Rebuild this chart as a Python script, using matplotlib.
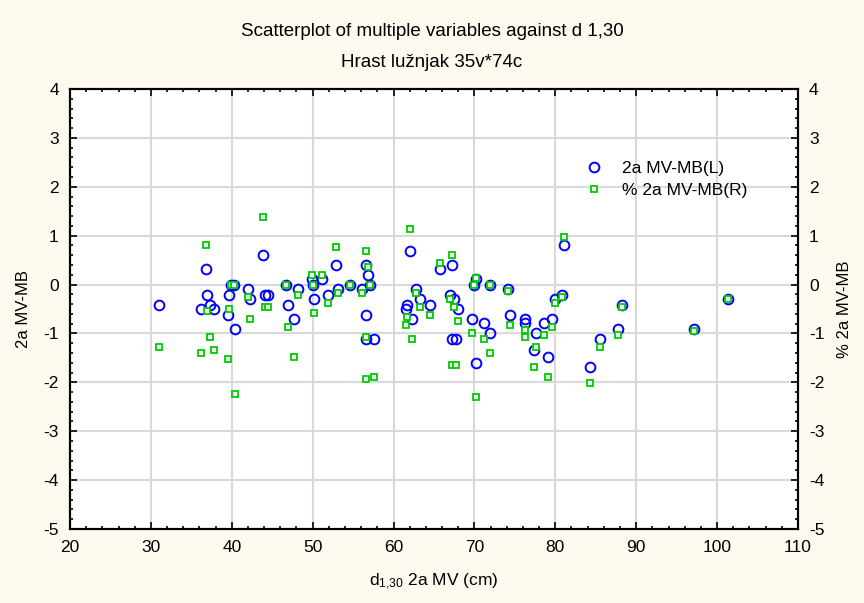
import matplotlib
matplotlib.use("Agg")
import matplotlib.pyplot as plt
from matplotlib.ticker import MultipleLocator

plt.rcParams['font.family'] = ['Liberation Sans', 'DejaVu Sans']
plt.rcParams['axes.unicode_minus'] = False
plt.rcParams['mathtext.default'] = 'regular'

# d 1,30 (cm)
d130 = [31.0, 36.8, 37.0, 36.2, 37.3, 37.8, 39.9, 40.3, 39.7, 39.5,
        40.4, 42.0, 42.2, 43.9, 44.1, 44.5, 46.7, 46.9, 48.2, 47.65,
        49.9, 50.1, 50.2, 51.15, 51.9, 52.9, 53.1, 54.6, 56.1, 56.6,
        56.8, 57.1, 56.6, 56.6, 57.6, 62.0, 62.8, 63.3, 61.7, 61.5,
        62.3, 64.5, 65.7, 67.2, 67.0, 67.5, 68.0, 67.2, 67.7, 69.7,
        70.15, 69.9, 70.15, 71.2, 71.9, 71.9, 74.2, 74.4, 76.2, 76.2,
        77.6, 77.35, 78.6, 79.1, 79.6, 79.9, 80.85, 81.1, 84.3, 85.55,
        87.8, 88.3, 97.2, 101.4]

# 2a MV-MB (lijeva os)
mv_mb = [-0.42, 0.31, -0.21, -0.50, -0.41, -0.50, 0.0, 0.0, -0.21, -0.63,
         -0.91, -0.09, -0.29, 0.61, -0.21, -0.21, 0.0, -0.42, -0.09, -0.70,
         0.12, 0.0, -0.29, 0.12, -0.22, 0.40, -0.09, 0.0, -0.09, 0.40,
         0.20, 0.0, -0.63, -1.11, -1.11, 0.68, -0.09, -0.29, -0.42, -0.50,
         -0.70, -0.42, 0.31, 0.40, -0.21, -0.30, -0.50, -1.11, -1.11, -0.70,
         -1.61, 0.0, 0.12, -0.79, 0.0, -1.0, -0.09, -0.63, -0.70, -0.79,
         -1.0, -1.33, -0.79, -1.49, -0.70, -0.29, -0.21, 0.81, -1.69, -1.12,
         -0.91, -0.42, -0.91, -0.29]

# % 2a MV-MB (desna os)
pct_mv_mb = [-1.28, 0.81, -0.54, -1.41, -1.08, -1.33, 0.0, 0.0, -0.50, -1.53,
             -2.23, -0.26, -0.71, 1.39, -0.46, -0.46, 0.0, -0.87, -0.22, -1.49,
             0.20, 0.0, -0.59, 0.20, -0.38, 0.77, -0.18, 0.0, -0.18, 0.68,
             0.36, 0.0, -1.08, -1.94, -1.90, 1.13, -0.18, -0.46, -0.67, -0.83,
             -1.12, -0.63, 0.44, 0.61, -0.30, -0.46, -0.75, -1.65, -1.65, -1.0,
             -2.31, 0.0, 0.14, -1.12, 0.0, -1.41, -0.13, -0.83, -0.92, -1.08,
             -1.28, -1.69, -1.04, -1.90, -0.87, -0.38, -0.26, 0.98, -2.02, -1.28,
             -1.04, -0.46, -0.94, -0.30]

bg = "#fffaf0"
fig = plt.figure(figsize=(8.64, 6.03), dpi=100, facecolor=bg)
ax = fig.add_axes([0.081, 0.1227, 0.8426, 0.7297])
ax.set_facecolor("white")

l1, = ax.plot(d130, mv_mb, "o", ls="none", mfc="none", mec="#0000ff",
              ms=7, mew=1.4, label="2a MV-MB(L)", zorder=3)

ax2 = ax.twinx()
l2, = ax2.plot(d130, pct_mv_mb, "s", ls="none", mfc="white", mec="#00cc00",
               ms=3.8, mew=1.3, label="% 2a MV-MB(R)", zorder=4)

for a in (ax, ax2):
    a.set_xlim(20, 110)
    a.set_ylim(-5, 4)
    a.yaxis.set_major_locator(MultipleLocator(1))
    a.yaxis.set_minor_locator(MultipleLocator(0.2))
    for s in a.spines.values():
        s.set_linewidth(1.5)

ax.xaxis.set_major_locator(MultipleLocator(10))
ax.xaxis.set_minor_locator(MultipleLocator(2))
ax.grid(True, which="major", color="#d9d9d9", lw=1.5)
ax.set_axisbelow(True)

ax.tick_params(which="both", direction="in", top=True, labelsize=12.5, width=1.2)
ax.tick_params(which="major", length=5)
ax.tick_params(which="minor", length=2.5)
ax.tick_params(axis="x", which="major", pad=8)
ax.tick_params(axis="y", which="major", pad=8)
ax2.tick_params(which="both", direction="in", labelsize=12.5, width=1.2)
ax2.tick_params(which="major", length=5, pad=8)
ax2.tick_params(which="minor", length=2.5)

ax.set_ylabel("2a MV-MB", fontsize=12, labelpad=9)
ax2.set_ylabel("% 2a MV-MB", fontsize=12, labelpad=9)
ax.set_xlabel("d$_{1{,}30}$ 2a MV (cm)", fontsize=12.5, labelpad=12)

fig.text(0.5, 0.948, "Scatterplot of multiple variables against d 1,30",
         ha="center", va="center", fontsize=13.5)
fig.text(0.5, 0.896, "Hrast lužnjak 35v*74c", ha="center", va="center", fontsize=13.5)

ax.legend(handles=[l1, l2], loc="upper left", bbox_to_anchor=(0.675, 0.872),
          frameon=False, fontsize=12.5, handletextpad=0.6, labelspacing=0.4)

fig.savefig("out.png", dpi=100, facecolor=bg)
